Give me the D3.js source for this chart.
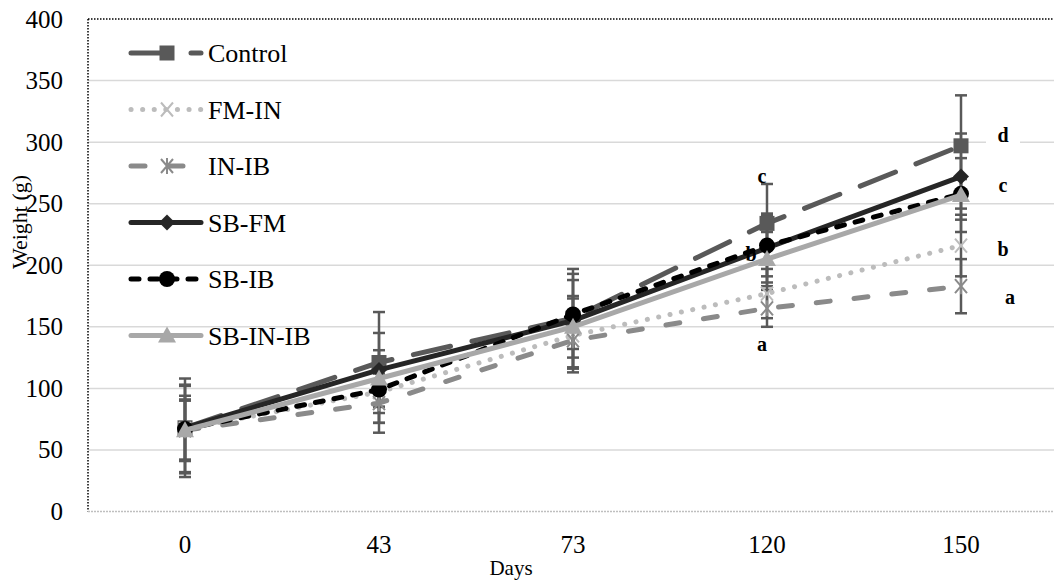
<!DOCTYPE html>
<html lang="en">
<head>
    <meta charset="utf-8">
    <title>Weight over days</title>
    <style>
        body { margin: 0; background: #fff; }
        svg { display: block; font-family: "Liberation Serif", "Times New Roman", serif; }
    </style>
</head>
<body>
    <svg id="chart" width="1054" height="581"></svg>
</body>
<script src="https://d3js.org/d3.v7.min.js"></script>
<script>
    // data
    const days = ["0", "43", "73", "120", "150"]
    const yTicks = [0, 50, 100, 150, 200, 250, 300, 350, 400]

    const control = [68, 121, 157, 234, 297]
    const fmIn = [67, 97, 143, 177, 216]
    const inIb = [66, 88, 139, 165, 183]
    const sbFm = [68, 115, 155, 214, 272]
    const sbIb = [67, 99, 160, 216, 258]
    const sbInIb = [66, 108, 150, 205, 257]

    const controlErr = [40, 41, 40, 32, 41]
    const fmInErr = [35, 25, 30, 20, 25]
    const inIbErr = [24, 24, 23, 15, 22]
    const sbFmErr = [26, 30, 38, 28, 35]
    const sbIbErr = [36, 27, 28, 25, 12]
    const sbInIbErr = [25, 23, 25, 22, 30]

    const seriesNames = ["Control", "FM-IN", "IN-IB", "SB-FM", "SB-IB", "SB-IN-IB"]

    const letterDays = ["120", "120", "120", "150", "150", "150", "150"]
    const letterValues = [272, 208, 135, 305, 264, 212, 173]
    const letterTexts = ["c", "b", "a", "d", "c", "b", "a"]

    const svg = d3.select("#chart")

    const plotLeft = 88, plotTop = 19, plotBottom = 511.5
    let x = d3.scaleBand().domain(days).range([plotLeft, plotLeft + 970])
    let y = d3.scaleLinear().domain([0, 400]).range([plotBottom, plotTop])
    const cx = d => x(d) + x.bandwidth() / 2

    let series = [
        { name: seriesNames[0], values: control, err: controlErr, color: "#595959", dash: "38,22", marker: "square" },
        { name: seriesNames[1], values: fmIn, err: fmInErr, color: "#bcbcbc", dash: "0.1,11.5", marker: "x" },
        { name: seriesNames[2], values: inIb, err: inIbErr, color: "#8a8a8a", dash: "14,24", marker: "star" },
        { name: seriesNames[3], values: sbFm, err: sbFmErr, color: "#262626", dash: null, marker: "diamond" },
        { name: seriesNames[4], values: sbIb, err: sbIbErr, color: "#000000", dash: "8,11", marker: "circle" },
        { name: seriesNames[5], values: sbInIb, err: sbInIbErr, color: "#a8a8a8", dash: null, marker: "triangle" }
    ]

    // gridlines
    svg.append("g")
        .selectAll("line")
        .data(yTicks.filter(t => t > 0 && t < 400))
        .join("line")
        .attr("x1", plotLeft).attr("x2", 1054)
        .attr("y1", d => y(d)).attr("y2", d => y(d))
        .attr("stroke", "#d9d9d9")
        .attr("stroke-width", 1.5)

    // plot frame: dotted top / left, grey dotted base
    svg.append("line")
        .attr("x1", plotLeft).attr("x2", 1054).attr("y1", y(400)).attr("y2", y(400))
        .attr("stroke", "#000").attr("stroke-width", 1.5).attr("stroke-dasharray", "1.5,1.5")
    svg.append("line")
        .attr("x1", plotLeft).attr("x2", plotLeft).attr("y1", y(400)).attr("y2", y(0))
        .attr("stroke", "#000").attr("stroke-width", 1.5).attr("stroke-dasharray", "1.5,1.5")
    svg.append("line")
        .attr("x1", plotLeft).attr("x2", 1054).attr("y1", y(0)).attr("y2", y(0))
        .attr("stroke", "#bfbfbf").attr("stroke-width", 1.5).attr("stroke-dasharray", "2,1")

    // axes labels
    let yAxis = d3.axisLeft(y).tickValues(yTicks).tickSize(0).tickPadding(25)
    svg.append("g")
        .attr("transform", `translate(${plotLeft},0)`)
        .call(yAxis)
        .call(g => g.select(".domain").remove())
        .selectAll("text")
        .attr("font-size", 25).attr("fill", "#000")
        .attr("font-family", "Liberation Serif")

    let xAxis = d3.axisBottom(x).tickSize(0).tickPadding(24)
    svg.append("g")
        .attr("transform", `translate(0,${plotBottom})`)
        .call(xAxis)
        .call(g => g.select(".domain").remove())
        .selectAll("text")
        .attr("font-size", 25).attr("fill", "#000")
        .attr("font-family", "Liberation Serif")

    svg.append("text")
        .attr("x", 511).attr("y", 575)
        .attr("text-anchor", "middle")
        .attr("font-size", 21)
        .text("Days")

    svg.append("text")
        .attr("transform", "translate(27,222) rotate(-90)")
        .attr("text-anchor", "middle")
        .attr("font-size", 22)
        .text("Weight (g)")

    function drawMarker(g, type, px, py, color) {
        if (type === "square") {
            g.append("rect").attr("x", px - 7.5).attr("y", py - 7.5).attr("width", 15).attr("height", 15).attr("fill", color)
        } else if (type === "diamond") {
            g.append("path").attr("d", `M${px},${py - 8}L${px + 8},${py}L${px},${py + 8}L${px - 8},${py}Z`).attr("fill", color)
        } else if (type === "circle") {
            g.append("circle").attr("cx", px).attr("cy", py).attr("r", 8).attr("fill", color)
        } else if (type === "triangle") {
            g.append("path").attr("d", `M${px},${py - 9}L${px + 9},${py + 7}L${px - 9},${py + 7}Z`).attr("fill", color)
        } else if (type === "x") {
            g.append("path").attr("d", `M${px - 6},${py - 7}L${px + 6},${py + 7}M${px + 6},${py - 7}L${px - 6},${py + 7}`)
                .attr("stroke", color).attr("stroke-width", 2)
        } else if (type === "star") {
            g.append("path").attr("d", `M${px - 6},${py - 7}L${px + 6},${py + 7}M${px + 6},${py - 7}L${px - 6},${py + 7}M${px},${py - 8}L${px},${py + 8}`)
                .attr("stroke", color).attr("stroke-width", 2)
        }
    }

    // significance letter positions
    let letterPos = letterTexts.map((t, i) => {
        let offset = letterDays[i] === "150" ? 42 : -5
        let px = cx(letterDays[i]) + offset + (i === 1 ? -11 : 0) + (i === 6 ? 7 : 0)
        return [px, y(letterValues[i])]
    })

    // white boxes under the letters hide the gridlines
    svg.append("g").selectAll("rect")
        .data(letterPos.filter((p, i) => i !== 1))
        .join("rect")
        .attr("x", p => p[0] - 17).attr("y", p => p[1] - 13)
        .attr("width", 34).attr("height", 26)
        .attr("fill", "#fff")

    // error bars
    let errG = svg.append("g")
    series.forEach(s => {
        days.forEach((d, i) => {
            let hi = y(s.values[i] + s.err[i]), lo = y(s.values[i] - s.err[i])
            errG.append("line").attr("x1", cx(d)).attr("x2", cx(d)).attr("y1", hi).attr("y2", lo)
                .attr("stroke", "#595959").attr("stroke-width", 2.5)
            ;[hi, lo].forEach(v => {
                errG.append("line").attr("x1", cx(d) - 6).attr("x2", cx(d) + 6).attr("y1", v).attr("y2", v)
                    .attr("stroke", "#595959").attr("stroke-width", 2.5)
            })
        })
    })

    // lines + markers
    let line = d3.line().x((v, i) => cx(days[i])).y(v => y(v))
    series.forEach(s => {
        let g = svg.append("g")
        g.append("path")
            .attr("d", line(s.values))
            .attr("fill", "none")
            .attr("stroke", s.color)
            .attr("stroke-width", 5)
            .attr("stroke-linecap", "round")
            .attr("stroke-dasharray", s.dash)
        s.values.forEach((v, i) => drawMarker(g, s.marker, cx(days[i]), y(v), s.color))
    })

    // letters on top
    svg.append("g").selectAll("text")
        .data(letterTexts)
        .join("text")
        .attr("x", (t, i) => letterPos[i][0])
        .attr("y", (t, i) => letterPos[i][1] + 6)
        .attr("text-anchor", "middle")
        .attr("font-weight", "bold")
        .attr("font-size", 20)
        .text(t => t)

    // legend
    let legend = svg.append("g")
    series.forEach((s, i) => {
        let ly = 53 + i * 56.5
        legend.append("line")
            .attr("x1", 131).attr("x2", 201).attr("y1", ly).attr("y2", ly)
            .attr("stroke", s.color).attr("stroke-width", 5)
            .attr("stroke-linecap", "round")
            .attr("stroke-dasharray", s.dash)
        drawMarker(legend, s.marker, 167, ly, s.color)
        legend.append("text")
            .attr("x", 208).attr("y", ly + 9)
            .attr("font-size", 26)
            .text(s.name)
    })
</script>
</html>
